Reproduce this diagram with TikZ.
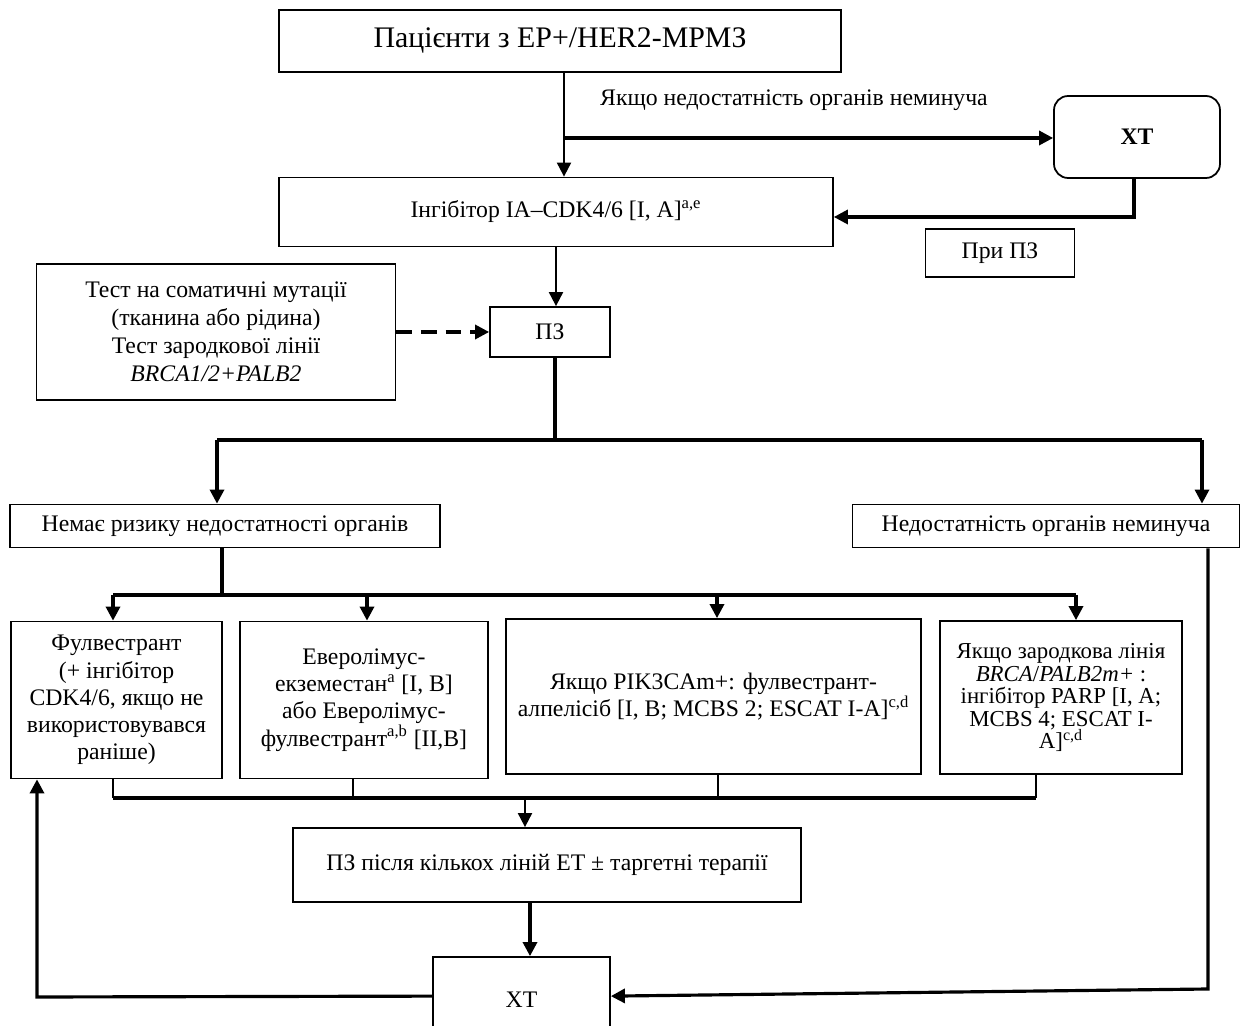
\documentclass[tikz,border=0pt]{standalone}
\usepackage{fontspec}
\setmainfont{Liberation Serif}
\usetikzlibrary{arrows.meta,calc}
\begin{document}
\begin{tikzpicture}[x=0.02cm,y=-0.02cm,
 box/.style={draw, line width=1pt, align=center, inner sep=2pt, font=\fontsize{13.5}{15.5}\selectfont},
 tip/.style={-{Triangle[length=8pt,width=8pt]}},
 ln/.style={line width=1.1pt},
 thk/.style={line width=1.8pt},
 txt/.style={font=\fontsize{13.5}{15.5}\selectfont},
]
\useasboundingbox (0,0) rectangle (1252,1026);
\clip (0,0) rectangle (1252,1026);

\node[box, minimum width=11.24cm, minimum height=1.24cm, font=\fontsize{17}{20}\selectfont] (top) at (560,41) {Пацієнти з ЕР+/HER2-МРМЗ};
\node[box, rounded corners=8pt, minimum width=3.32cm, minimum height=1.64cm, font=\bfseries\fontsize{13.5}{15.5}\selectfont] (xt1) at (1137,137) {ХТ};
\node[txt] (lbl) at (794,100) {Якщо недостатність органів неминуча};
\node[box, minimum width=11.08cm, minimum height=1.38cm] (ing) at (556,212) {Інгібітор ІА–CDK4/6 [I, A]\textsuperscript{a,e}};
\node[box, minimum width=2.98cm, minimum height=0.96cm] (pri) at (1000,253) {При ПЗ};
\node[box, minimum width=2.4cm, minimum height=1cm] (pz) at (550,332) {ПЗ};
\node[box, minimum width=7.18cm, minimum height=2.72cm, font=\fontsize{13.5}{16}\selectfont] (test) at (216,332) {Тест на соматичні мутації\\(тканина або рідина)\\Тест зародкової лінії\\\textit{BRCA1/2+PALB2}};
\node[box, minimum width=8.6cm, minimum height=0.86cm] (nr) at (225,526) {Немає ризику недостатності органів};
\node[box, minimum width=7.74cm, minimum height=0.86cm] (nd) at (1046,526) {Недостатність органів неминуча};
\node[box, minimum width=4.22cm, minimum height=3.14cm] (b1) at (116.5,700) {Фулвестрант\\(+ інгібітор\\CDK4/6, якщо не\\використовувався\\раніше)};
\node[box, minimum width=4.96cm, minimum height=3.14cm] (b2) at (364,700) {Еверолімус-\\екземестан\textsuperscript{a} [I, B]\\або Еверолімус-\\фулвестрант\textsuperscript{a,b} [II,B]};
\node[box, minimum width=8.3cm, minimum height=3.1cm] (b3) at (713.5,696.5) {Якщо PIK3CAm+: фулвестрант-\\алпелісіб [I, B; MCBS 2; ESCAT I-A]\textsuperscript{c,d}};
\node[box, minimum width=4.84cm, minimum height=3.06cm, font=\fontsize{13}{12.8}\selectfont] (b4) at (1061,697.5) {Якщо зародкова лінія\\\textit{BRCA}/\textit{PALB2m+} :\\інгібітор PARP [I, A;\\MCBS 4; ESCAT I-\\A]\textsuperscript{c,d}};
\node[box, minimum width=10.16cm, minimum height=1.48cm] (pz2) at (547,865) {ПЗ після кількох ліній ЕТ ± таргетні терапії};
\node[box, minimum width=3.54cm, minimum height=2.2cm, text depth=0.5cm] (xt2) at (521.5,1012) {ХТ};

% connectors
\coordinate (j1) at (564,138);
\draw[ln,tip] (top.south -| j1) -- (ing.north -| j1);
\draw[thk,tip] (j1) -- (j1 -| xt1.west);
\coordinate (j2) at (1134,217);
\draw[thk,tip] (xt1.south -| j2) -- (j2) -- (j2 -| ing.east);
\draw[ln,tip] (ing.south) -- (ing.south |- pz.north);
\draw[thk,tip,dash pattern=on 9pt off 5pt] (test.east |- pz.west) -- (pz.west);
\coordinate (j4) at (555,440);
\draw[thk] (pz.south -| j4) -- (j4);
\coordinate (j5l) at (217,440);
\coordinate (j5r) at (1202,440);
\draw[thk] (j5l) -- (j5r);
\draw[thk,tip] (j5l) -- (j5l |- nr.north);
\draw[thk,tip] (j5r) -- (j5r |- nd.north);
\coordinate (j6) at (222,595);
\draw[thk] (nr.south -| j6) -- (j6);
\coordinate (k1) at (113,595);
\coordinate (k2) at (367,595);
\coordinate (k3) at (717,595);
\coordinate (k4) at (1076,595);
\draw[thk] (k1) -- (k4);
\draw[thk,tip] (k1) -- (k1 |- b1.north);
\draw[thk,tip] (k2) -- (k2 |- b2.north);
\draw[thk,tip] (k3) -- (k3 |- b3.north);
\draw[thk,tip] (k4) -- (k4 |- b4.north);
\coordinate (m1) at (113,798);
\coordinate (m2) at (353,798);
\coordinate (m3) at (718,798);
\coordinate (m4) at (1036,798);
\coordinate (m0) at (525,798);
\draw[ln] (b1.south -| m1) -- (m1);
\draw[ln] (b2.south -| m2) -- (m2);
\draw[ln] (b3.south -| m3) -- (m3);
\draw[ln] (b4.south -| m4) -- (m4);
\draw[thk] (m1) -- (m4);
\draw[ln,tip] (m0) -- (m0 |- pz2.north);
\coordinate (n1) at (530,902);
\draw[thk,tip] (pz2.south -| n1) -- (n1 |- xt2.north);
\coordinate (xl) at ([yshift=-0.8cm]xt2.north west);
\coordinate (xr) at ([yshift=-0.8cm]xt2.north east);
\coordinate (c1) at (37,997);
\draw[thk,tip] (xl) -- (c1) -- (c1 |- b1.south);
\coordinate (c2) at (1208,989);
\draw[thk,tip] (nd.south -| c2) -- (c2) -- (xr);
\end{tikzpicture}
\end{document}
